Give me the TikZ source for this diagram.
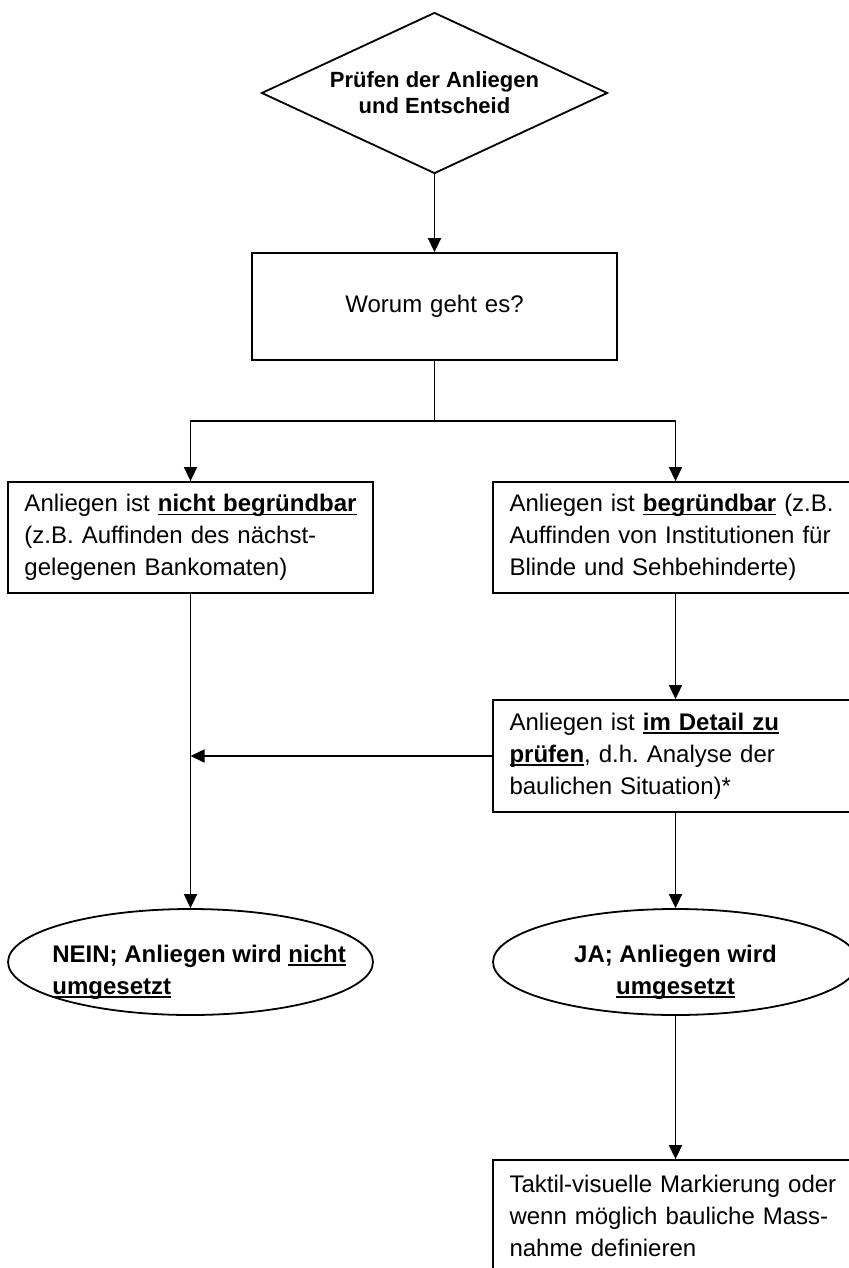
\documentclass[tikz,border=0pt]{standalone}
\usepackage{fontspec}
\setmainfont{Liberation Sans}
\usetikzlibrary{arrows.meta,shapes.geometric,positioning}
\frenchspacing

% Unterstreichung knapp unter der Grundlinie
\newcommand{\unterstr}[1]{\setbox0\hbox{#1}\rlap{\rule[-1.7pt]{\wd0}{0.8pt}}\box0}

\tikzset{
	kasten/.style={draw, line width=0.9pt, rectangle, minimum width=182.5pt, minimum height=55.5pt,
		text width=166pt, inner xsep=8.25pt, inner ysep=0pt, align=left,
		font=\fontsize{12}{16}\selectfont},
	raute/.style={draw, line width=0.9pt, diamond, aspect=2.15, inner sep=0pt,
		minimum width=173pt, minimum height=80.5pt, align=center,
		font=\fontsize{11}{13}\selectfont\bfseries},
	oval/.style={draw, line width=0.9pt, ellipse, minimum width=182.5pt, minimum height=53pt, inner sep=0pt},
	ovaltext/.style={inner sep=0pt, font=\fontsize{12}{16}\selectfont\bfseries},
	pfeil/.style={line width=0.8pt, -{Triangle[length=7pt,width=6.5pt]}},
}

\begin{document}
\begin{tikzpicture}[x=0.5pt,y=-0.5pt]
	
	\useasboundingbox (0,0) rectangle (849,1268);
	
	% Entscheid oben
	\node[raute] (pruefen) at (434.5,93) {Prüfen der Anliegen\\und Entscheid};
	\node[kasten, align=center, minimum height=53.5pt] (worum) at (434.5,306.5) {Worum geht es?};
	
	% die beiden Faelle
	\node[kasten] (nicht) at (190.5,537.5) {\mbox{Anliegen ist \textbf{\unterstr{nicht begründbar}}}\\(z.B. Auffinden des nächst-\\gelegenen Bankomaten)};
	\node[kasten] (begr) at (675.5,537.5) {\mbox{Anliegen ist \textbf{\unterstr{begründbar}} (z.B.}\\Auffinden von Institutionen für\\Blinde und Sehbehinderte)};
	\node[kasten, minimum height=56pt] (detail) at (675.5,756) {Anliegen ist \textbf{\unterstr{im Detail zu}}\\\textbf{\unterstr{prüfen}}, d.h. Analyse der\\baulichen Situation)*};
	
	% Ergebnis
	\node[oval] (nein) at (190.5,962) {};
	\node[ovaltext, anchor=west, align=left] (neintext) at (52,972) {NEIN; Anliegen wird \unterstr{nicht}\\\unterstr{umgesetzt}};
	\node[oval] (ja) at (675.5,962) {};
	\node[ovaltext, align=center] (jatext) at (675.5,972) {JA; Anliegen wird\\\unterstr{umgesetzt}};
	
	\node[kasten] (massnahme) at (675.5,1215.5) {\mbox{Taktil-visuelle Markierung oder}\\wenn möglich bauliche Mass-\\nahme definieren};
	
	% Pfeile
	\coordinate (split) at (434.5,421);
	\draw[pfeil] (pruefen.south) -- (worum.north);
	\draw[line width=0.8pt] (worum.south) -- (split);
	\draw[pfeil] (split) -| (nicht.north);
	\draw[pfeil] (split) -| (begr.north);
	\draw[pfeil] (begr.south) -- (detail.north);
	\draw[pfeil] (detail.west) -- (detail.west -| nicht.south);
	\draw[pfeil] (nicht.south) -- (nein.north);
	\draw[pfeil] (detail.south) -- (ja.north);
	\draw[pfeil] (ja.south) -- (massnahme.north);
	
\end{tikzpicture}
\end{document}
